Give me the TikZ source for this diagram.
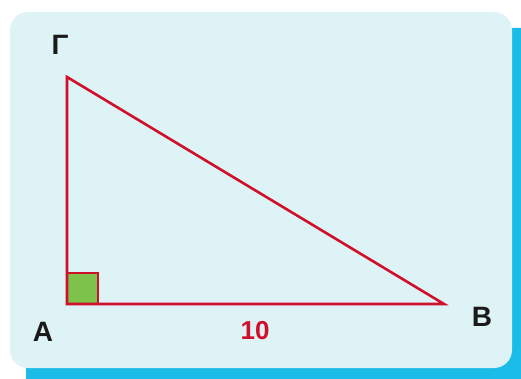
\documentclass[tikz,border=0pt]{standalone}
\usepackage{fontspec}
\setmainfont{Liberation Sans}
\definecolor{panel}{HTML}{DDF3F5}
\definecolor{shadowblue}{HTML}{1BBDE8}
\definecolor{trired}{HTML}{D0102A}
\definecolor{anglegreen}{HTML}{7DC24A}
\definecolor{labelblack}{HTML}{1A1A1A}
\begin{document}
\begin{tikzpicture}[x=1pt,y=-1pt,
  side/.style={draw=trired,line width=2.6pt,line join=miter},
  vlabel/.style={font=\bfseries\fontsize{28}{30}\selectfont,text=labelblack,inner sep=0pt},
  lenlabel/.style={font=\bfseries\fontsize{26}{28}\selectfont,text=trired,inner sep=0pt}]
\useasboundingbox (0,0) rectangle (521,379);
\clip (0,0) rectangle (521,379);
\fill[white] (0,0) rectangle (521,379);
\fill[shadowblue,rounded corners=18pt] (26,28) rectangle (545,400);
\fill[panel,rounded corners=18pt] (10,12) rectangle (512,368);
\coordinate (A) at (67,304);
\coordinate (B) at (444,304);
\coordinate (G) at (67,77);
\filldraw[fill=anglegreen,draw=trired,line width=2pt] (A) rectangle ++(31,-31);
\draw[side] (A) -- (B) -- (G) -- cycle;
\node[vlabel] (lG) at (60,45) {Γ};
\node[vlabel] (lA) at (43,332) {A};
\node[vlabel] (lB) at (482,317) {B};
\node[lenlabel] (l10) at (255,331) {10};
\end{tikzpicture}
\end{document}
